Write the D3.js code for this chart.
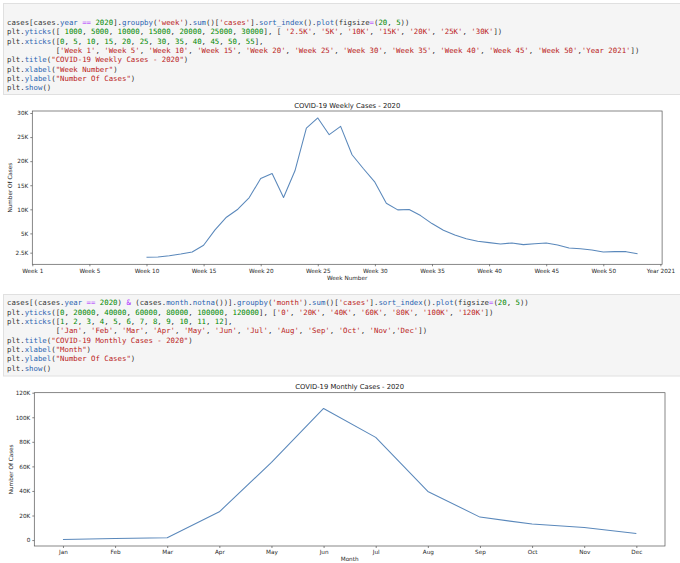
<!DOCTYPE html>
<html><head><meta charset="utf-8">
<script src="https://cdn.jsdelivr.net/npm/d3@7"></script>
<style>body{margin:0;background:#fff} svg{display:block} text{white-space:pre}</style>
</head><body><svg id="c" width="680" height="563"></svg>
<script>
// ---------- data ----------
const weeks = [10,11,12,13,14,15,16,17,18,19,20,21,22,23,24,25,26,27,28,29,30,31,32,33,34,35,36,37,38,39,40,41,42,43,44,45,46,47,48,49,50,51,52,53];
const weeklyCases = [30,100,375,720,1140,2530,5720,8360,10020,12450,16400,17450,12450,18000,26880,28970,25500,27230,21330,18420,15640,11270,9880,9950,8700,7040,5650,4680,3910,3360,3080,2800,3010,2670,2870,3010,2600,1970,1830,1560,1140,1210,1210,790];
const weekTickValues = [0,5,10,15,20,25,30,35,40,45,50,55];
const weekTickLabels = ['Week 1','Week 5','Week 10','Week 15','Week 20','Week 25','Week 30','Week 35','Week 40','Week 45','Week 50','Year 2021'];
const weekYTickValues = [1000,5000,10000,15000,20000,25000,30000];
const weekYTickLabels = ['2.5K','5K','10K','15K','20K','25K','30K'];

const months = [1,2,3,4,5,6,7,8,9,10,11,12];
const monthlyCases = [500,1350,1900,23000,63200,107200,83600,39600,18700,13000,10300,5400];
const monthTickValues = [1,2,3,4,5,6,7,8,9,10,11,12];
const monthTickLabels = ['Jan','Feb','Mar','Apr','May','Jun','Jul','Aug','Sep','Oct','Nov','Dec'];
const monthYTickValues = [0,20000,40000,60000,80000,100000,120000];
const monthYTickLabels = ['0','20K','40K','60K','80K','100K','120K'];

const code1 = [
"cases[cases.year == 2020].groupby('week').sum()['cases'].sort_index().plot(figsize=(20, 5))",
"plt.yticks([ 1000, 5000, 10000, 15000, 20000, 25000, 30000], [ '2.5K', '5K', '10K', '15K', '20K', '25K', '30K'])",
"plt.xticks([0, 5, 10, 15, 20, 25, 30, 35, 40, 45, 50, 55],",
"           ['Week 1', 'Week 5', 'Week 10', 'Week 15', 'Week 20', 'Week 25', 'Week 30', 'Week 35', 'Week 40', 'Week 45', 'Week 50','Year 2021'])",
"plt.title(\"COVID-19 Weekly Cases - 2020\")",
"plt.xlabel(\"Week Number\")",
"plt.ylabel(\"Number Of Cases\")",
"plt.show()"
];
const code2 = [
"cases[(cases.year == 2020) & (cases.month.notna())].groupby('month').sum()['cases'].sort_index().plot(figsize=(20, 5))",
"plt.yticks([0, 20000, 40000, 60000, 80000, 100000, 120000], ['0', '20K', '40K', '60K', '80K', '100K', '120K'])",
"plt.xticks([1, 2, 3, 4, 5, 6, 7, 8, 9, 10, 11, 12],",
"           ['Jan', 'Feb', 'Mar', 'Apr', 'May', 'Jun', 'Jul', 'Aug', 'Sep', 'Oct', 'Nov','Dec'])",
"plt.title(\"COVID-19 Monthly Cases - 2020\")",
"plt.xlabel(\"Month\")",
"plt.ylabel(\"Number Of Cases\")",
"plt.show()"
];

// ---------- drawing ----------
const svg = d3.select('#c');

function codeCell(lines, top, bottom, firstBaseline){
  svg.append('rect').attr('x',3.5).attr('y',top+0.5).attr('width',690).attr('height',bottom-top)
    .attr('fill','#f5f5f5').attr('stroke','#e0e0e0');
  const re = /('[^']*'|"[^"]*")|(\d+)|(==|&|=)|(\.)([A-Za-z_]\w*)|([A-Za-z_]\w*)|(\s+)|(.)/g;
  lines.forEach((ln,i)=>{
    const t = svg.append('text').attr('x',7).attr('y',firstBaseline+i*9.3)
      .attr('font-family','DejaVu Sans Mono, monospace').attr('font-size',7.35);
    let m; re.lastIndex=0;
    while((m=re.exec(ln))!==null){
      if(m[1]) t.append('tspan').attr('fill','#ba2121').text(m[1]);
      else if(m[2]) t.append('tspan').attr('fill','#008800').text(m[2]);
      else if(m[3]) t.append('tspan').attr('fill','#aa22ff').text(m[3]);
      else if(m[4]){ t.append('tspan').attr('fill','#333').text('.'); t.append('tspan').attr('fill','#2a64b0').text(m[5]); }
      else if(m[6]) t.append('tspan').attr('fill','#333').text(m[6]);
      else t.append('tspan').attr('fill','#333').text(m[0]);
    }
  });
}

codeCell(code1, 3, 94, 25);
codeCell(code2, 294, 375.5, 305.4);

function mplDomain(vals, ticks){
  const lo=d3.min(vals), hi=d3.max(vals), m=(hi-lo)*0.05;
  return [Math.min(lo-m, d3.min(ticks)), Math.max(hi+m, d3.max(ticks))];
}

function chart(o){
  const g = svg.append('g');
  const x = d3.scaleLinear().domain(mplDomain(o.xs, o.xt)).range([o.left,o.right]);
  const y = d3.scaleLinear().domain(mplDomain(o.ys, o.yt)).range([o.bottom,o.top]);
  const font = 'DejaVu Sans, sans-serif';
  const xa = g.append('g').attr('transform',`translate(0,${o.bottom})`)
    .call(d3.axisBottom(x).tickValues(o.xt).tickFormat((d,i)=>o.xl[i]).tickSize(2).tickPadding(2.2).tickSizeOuter(0));
  const ya = g.append('g').attr('transform',`translate(${o.left},0)`)
    .call(d3.axisLeft(y).tickValues(o.yt).tickFormat((d,i)=>o.yl[i]).tickSize(2).tickPadding(2).tickSizeOuter(0));
  [xa,ya].forEach(a=>{
    a.select('.domain').remove();
    a.selectAll('line').attr('stroke','#333').attr('stroke-width',0.6);
    a.selectAll('text').attr('font-family',font).attr('font-size',5.7).attr('fill','#262626');
  });
  g.append('path').datum(o.xs.map((d,i)=>[d,o.ys[i]]))
    .attr('d', d3.line().x(d=>x(d[0])).y(d=>y(d[1])))
    .attr('fill','none').attr('stroke','#5a88bb').attr('stroke-width',1.05).attr('stroke-linejoin','round');
  g.append('rect').attr('x',o.left).attr('y',o.top).attr('width',o.right-o.left).attr('height',o.bottom-o.top)
    .attr('fill','none').attr('stroke','#555').attr('stroke-width',0.7);
  const cx=(o.left+o.right)/2;
  g.append('text').attr('x',cx).attr('y',o.top-3.4).attr('text-anchor','middle')
    .attr('font-family',font).attr('font-size',6.8).attr('fill','#222').text(o.title);
  g.append('text').attr('x',cx).attr('y',o.xlabY).attr('text-anchor','middle')
    .attr('font-family',font).attr('font-size',5.7).attr('fill','#262626').text(o.xlabel);
  g.append('text').attr('transform',`translate(${o.ylabX},${(o.top+o.bottom)/2}) rotate(-90)`).attr('text-anchor','middle')
    .attr('font-family',font).attr('font-size',5.7).attr('fill','#262626').text('Number Of Cases');
}

chart({xs:weeks, ys:weeklyCases, xt:weekTickValues, xl:weekTickLabels, yt:weekYTickValues, yl:weekYTickLabels,
  left:32.3, right:662.1, top:111, bottom:264.3, title:'COVID-19 Weekly Cases - 2020', xlabel:'Week Number', xlabY:280.3, ylabX:12});
chart({xs:months, ys:monthlyCases, xt:monthTickValues, xl:monthTickLabels, yt:monthYTickValues, yl:monthYTickLabels,
  left:34.3, right:665, top:392.7, bottom:546, title:'COVID-19 Monthly Cases - 2020', xlabel:'Month', xlabY:561.3, ylabX:13});
</script></body></html>
